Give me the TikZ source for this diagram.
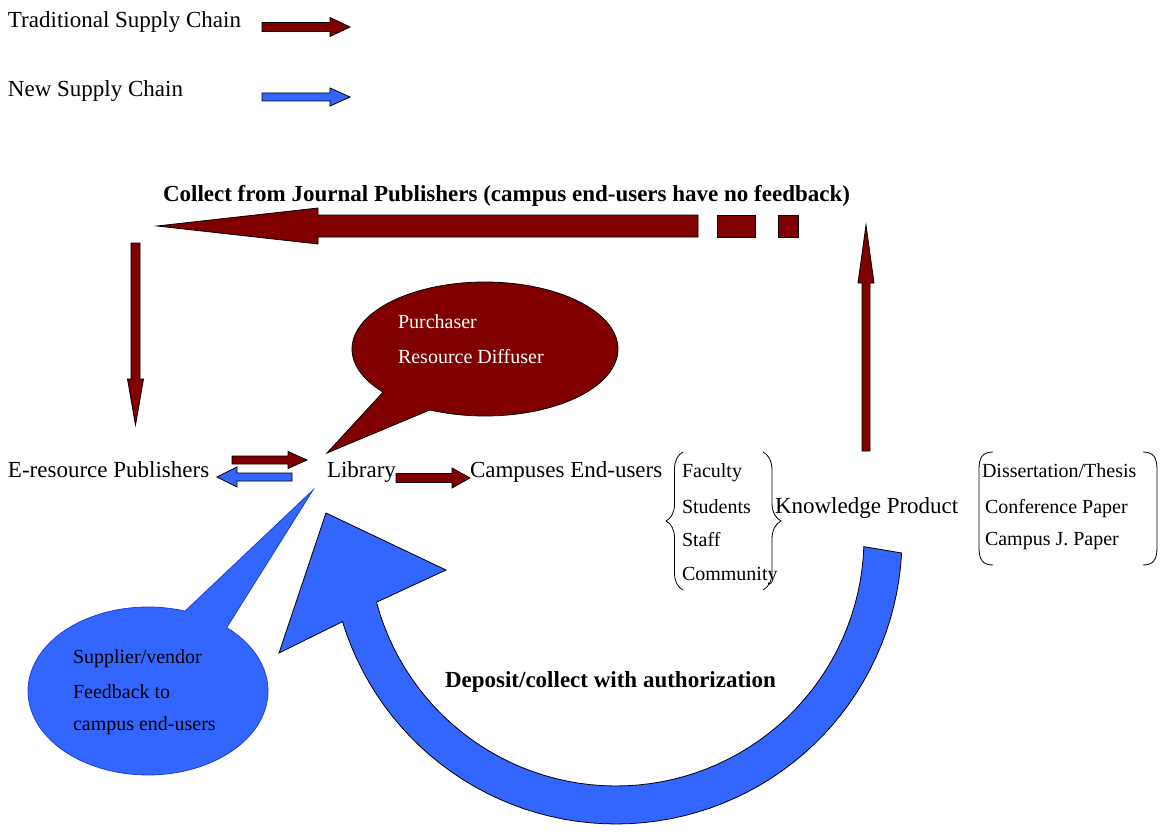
\documentclass[tikz,border=0pt]{standalone}
\usepackage{fontspec}
\setmainfont{Liberation Serif}
\usetikzlibrary{decorations.pathreplacing}
\newcommand*{\lblfont}{\fontsize{23}{27}\selectfont}
\newcommand*{\itmfont}{\fontsize{20}{24}\selectfont}
\definecolor{maroon}{RGB}{128,0,0}
\definecolor{royal}{RGB}{51,102,255}
\definecolor{royaledge}{RGB}{30,60,230}
\tikzstyle{pix}=[x=1pt, y=-1pt, inner sep=0pt, outer sep=0pt]
\tikzstyle{oldchain}=[draw=black, fill=maroon, line width=0.8pt]
\tikzstyle{newchain}=[draw=black, fill=royal, line width=0.8pt]
\tikzstyle{newbubble}=[draw=royaledge, fill=royal, line width=0.8pt]
\tikzstyle{txt}=[anchor=base west]
\tikzstyle{brk}=[line width=0.8pt]
% block arrows: [style]{from}{to}{axis}{half shaft}{half head}{head length, signed}
\newcommand{\hblock}[7][]{%
  \draw[#1] (#2,{#4-#5}) -- ({#3-(#7)},{#4-#5}) -- ({#3-(#7)},{#4-#6}) -- (#3,#4)
    -- ({#3-(#7)},{#4+#6}) -- ({#3-(#7)},{#4+#5}) -- (#2,{#4+#5}) -- cycle;}
\newcommand{\vblock}[7][]{%
  \draw[#1] ({#4-#5},#2) -- ({#4-#5},{#3-(#7)}) -- ({#4-#6},{#3-(#7)}) -- (#4,#3)
    -- ({#4+#6},{#3-(#7)}) -- ({#4+#5},{#3-(#7)}) -- ({#4+#5},#2) -- cycle;}
\begin{document}
\begin{tikzpicture}[pix]
    \lblfont
    \path [use as bounding box] (0,0) rectangle (1160,832);
    % legend
    \node [txt] (tradkey) at (8,28) {Traditional Supply Chain};
    \node [txt] (newkey) at (8,97) {New Supply Chain};
    \hblock[oldchain]{262}{350}{27}{4.5}{9.5}{20}
    \hblock[newchain]{262}{350}{97}{4}{9}{20}
    % collect loop (traditional)
    \node [txt] (collect) at (163,201) {\bfseries Collect from Journal Publishers (campus end-users have no feedback)};
    \hblock[oldchain]{698}{157}{226}{11}{18}{-161}
    \draw [oldchain] (717,215) rectangle (755,237);
    \draw [oldchain] (778,215) rectangle (798,237);
    \vblock[oldchain]{243}{425}{135.5}{4.5}{8}{46}
    \vblock[oldchain]{451}{225}{866}{4}{8}{-58}
    % purchaser bubble
    \draw [oldchain] plot[domain=245.5:580, samples=90] ({485+133*cos(\x)},{349-67*sin(\x)}) -- (327,453) -- cycle;
    \node [txt, white, font=\itmfont] (purch) at (398,328) {Purchaser};
    \node [txt, white, font=\itmfont] (diffuser) at (398,363) {Resource Diffuser};
    % supplier bubble
    \draw [newbubble] plot[domain=72:409, samples=90] ({148+120*cos(\x)},{691-84*sin(\x)}) -- (313,490) -- cycle;
    \node [txt, font=\itmfont] (supp) at (73,663) {Supplier/vendor};
    \node [txt, font=\itmfont] (feed) at (73,698) {Feedback to};
    \node [txt, font=\itmfont] (endusers) at (73,730) {campus end-users};
    % main row
    \node [txt] (pub) at (8,477) {E-resource Publishers};
    \node [txt] (lib) at (327,477) {Library};
    \node [txt] (campus) at (470,477) {Campuses End-users};
    \node [txt] (kp) at (775,513) {Knowledge Product};
    \hblock[oldchain]{232}{307}{460}{4}{8.5}{19}
    \hblock[newchain]{292}{217}{477}{4}{10}{-20}
    \hblock[oldchain]{396}{470}{478}{4.5}{10}{18}
    % user groups
    \draw [brk, decorate, decoration={brace, amplitude=17pt}] (683,590) -- (683,452);
    \draw [brk, decorate, decoration={brace, amplitude=18pt}] (763,452) -- (763,590);
    \node [txt, font=\itmfont] (fac) at (682,477) {Faculty};
    \node [txt, font=\itmfont] (stu) at (682,513) {Students};
    \node [txt, font=\itmfont] (staff) at (682,546) {Staff};
    \node [txt, font=\itmfont] (comm) at (682,580) {Community};
    % knowledge products
    \draw [brk] (993,452) .. controls (982,452) and (979,458) .. (979,470) -- (979,547) .. controls (979,559) and (982,565) .. (993,565);
    \draw [brk] (1143,452) .. controls (1154,452) and (1157,458) .. (1157,470) -- (1157,547) .. controls (1157,559) and (1154,565) .. (1143,565);
    \node [txt, font=\itmfont] (thesis) at (982,477) {Dissertation/Thesis};
    \node [txt, font=\itmfont] (conf) at (985,513) {Conference Paper};
    \node [txt, font=\itmfont] (cjp) at (985,545) {Campus J. Paper};
    % deposit loop (new)
    \draw [newchain] plot[domain=-2:-165, samples=60] ({616+248*cos(\x)},{538-248*sin(\x)})
        -- (446,570) -- (326,513) -- (279,653)
        -- plot[domain=-163:-3, samples=60] ({616+286*cos(\x)},{538-286*sin(\x)}) -- cycle;
    \node [txt] (deposit) at (445,687) {\bfseries Deposit/collect with authorization};
\end{tikzpicture}
\end{document}
